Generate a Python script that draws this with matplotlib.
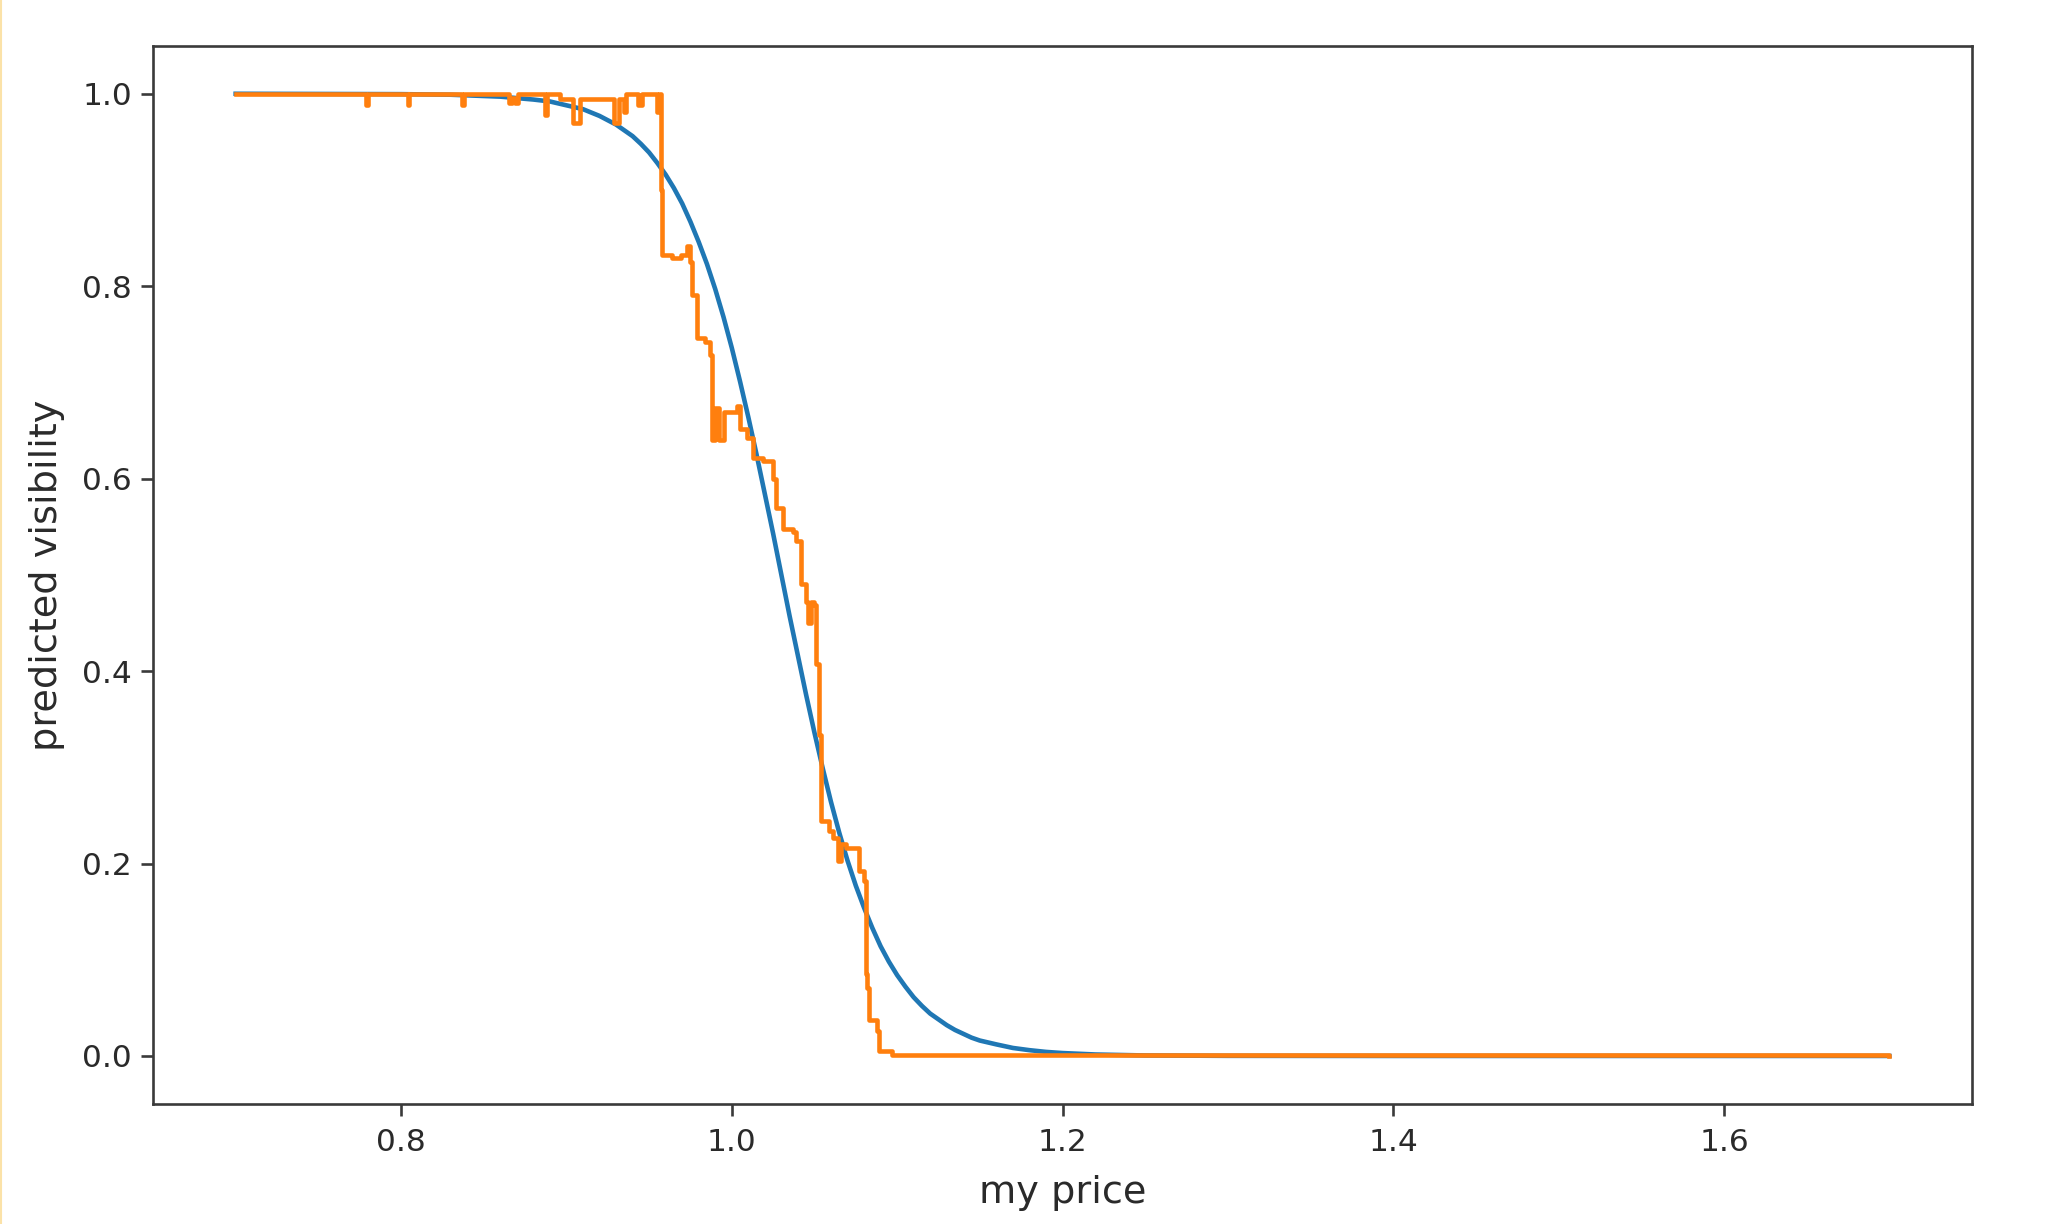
import matplotlib
matplotlib.use("Agg")
import matplotlib.pyplot as plt
from matplotlib.lines import Line2D

# geglaettete Kurve (blau)
price_fit = [0.70, 0.80, 0.83, 0.86, 0.88, 0.89, 0.90, 0.91, 0.92, 0.93, 0.94,
             0.945, 0.95, 0.955, 0.96, 0.965, 0.97, 0.975, 0.98, 0.985, 0.99,
             0.995, 1.00, 1.005, 1.01, 1.015, 1.02, 1.025, 1.03, 1.035, 1.04,
             1.045, 1.05, 1.055, 1.06, 1.065, 1.07, 1.075, 1.08, 1.085, 1.09,
             1.095, 1.10, 1.105, 1.11, 1.115, 1.12, 1.125, 1.13, 1.135, 1.14,
             1.145, 1.15, 1.16, 1.17, 1.18, 1.19, 1.20, 1.22, 1.25, 1.30,
             1.40, 1.70]
vis_fit = [1.000, 0.9996, 0.999, 0.997, 0.994, 0.992, 0.988, 0.984, 0.977, 0.968,
           0.956, 0.948, 0.939, 0.928, 0.916, 0.902, 0.886, 0.867, 0.846, 0.823,
           0.797, 0.768, 0.736, 0.701, 0.664, 0.625, 0.584, 0.543, 0.500, 0.457,
           0.416, 0.375, 0.336, 0.299, 0.264, 0.232, 0.203, 0.177, 0.154, 0.133,
           0.114, 0.098, 0.084, 0.072, 0.061, 0.052, 0.044, 0.038, 0.032, 0.027,
           0.023, 0.019, 0.016, 0.012, 0.0083, 0.006, 0.0042, 0.003, 0.0015,
           0.0005, 0.0001, 0.0, 0.0]

# empirische Stufenkurve (orange)
price_emp = [0.700, 0.779, 0.779, 0.780, 0.780, 0.804, 0.804, 0.805, 0.805,
             0.837, 0.837, 0.838, 0.838, 0.865, 0.865, 0.867, 0.867, 0.869,
             0.871, 0.871, 0.887, 0.887, 0.888, 0.888, 0.896, 0.896, 0.904,
             0.904, 0.908, 0.908, 0.929, 0.929, 0.932, 0.932, 0.935, 0.935,
             0.936, 0.943, 0.943, 0.946, 0.946, 0.955, 0.955, 0.956, 0.957,
             0.957, 0.958, 0.964, 0.969, 0.973, 0.975, 0.976, 0.979, 0.984,
             0.987, 0.988, 0.990, 0.992, 0.995, 1.003, 1.005, 1.009, 1.013,
             1.019, 1.025, 1.027, 1.031, 1.037, 1.039, 1.042, 1.045, 1.046,
             1.048, 1.050, 1.051, 1.053, 1.054, 1.054, 1.059, 1.061, 1.064,
             1.066, 1.069, 1.077, 1.080, 1.081, 1.082, 1.083, 1.088, 1.089,
             1.097, 1.700]
vis_emp = [1.0, 1.0, 0.988, 0.988, 1.0, 1.0, 0.988, 0.988, 1.0,
           1.0, 0.988, 0.988, 1.0, 1.0, 0.990, 0.990, 0.996, 0.990,
           0.990, 1.0, 1.0, 0.978, 0.978, 1.0, 1.0, 0.995, 0.995,
           0.970, 0.970, 0.995, 0.995, 0.970, 0.970, 0.995, 0.995, 0.981,
           1.0, 1.0, 0.988, 0.988, 1.0, 1.0, 0.981, 1.0, 1.0,
           0.900, 0.832, 0.829, 0.832, 0.842, 0.825, 0.791, 0.746, 0.742,
           0.728, 0.640, 0.673, 0.640, 0.669, 0.676, 0.652, 0.642, 0.621,
           0.618, 0.600, 0.569, 0.548, 0.545, 0.535, 0.490, 0.472, 0.450,
           0.472, 0.469, 0.407, 0.334, 0.293, 0.244, 0.234, 0.227, 0.203,
           0.220, 0.216, 0.192, 0.182, 0.085, 0.071, 0.037, 0.026, 0.005,
           0.001, 0.0]

fig = plt.figure(figsize=(20.48, 12.24), dpi=100)
ax = fig.add_axes([0.0747, 0.098, 0.8882, 0.8647])

ax.plot(price_fit, vis_fit, color="#1f77b4", linewidth=3.3)
ax.plot(price_emp, vis_emp, color="#ff7f0e", linewidth=3.3, drawstyle="steps-post")

ax.set_xticks([0.8, 1.0, 1.2, 1.4, 1.6])
ax.set_yticks([0.0, 0.2, 0.4, 0.6, 0.8, 1.0])
ax.tick_params(labelsize=22.5, length=8.6, width=1.9, colors="#3a3a3a", labelcolor="#2a2a2a")
ax.tick_params(axis="x", pad=9)
ax.tick_params(axis="y", pad=6.4)
for s in ax.spines.values():
    s.set_linewidth(1.9)
    s.set_color("#3a3a3a")
ax.set_xlabel("my price", fontsize=27.5, color="#2a2a2a", labelpad=12.5)
ax.set_ylabel("predicted visibility", fontsize=27.5, color="#2a2a2a", labelpad=12.5)

# schmaler Rand links wie im Screenshot
fig.add_artist(Line2D([0.0006, 0.0006], [0, 1], color="#fbe2a8", linewidth=1.5))

fig.savefig("out.png", dpi=100)
